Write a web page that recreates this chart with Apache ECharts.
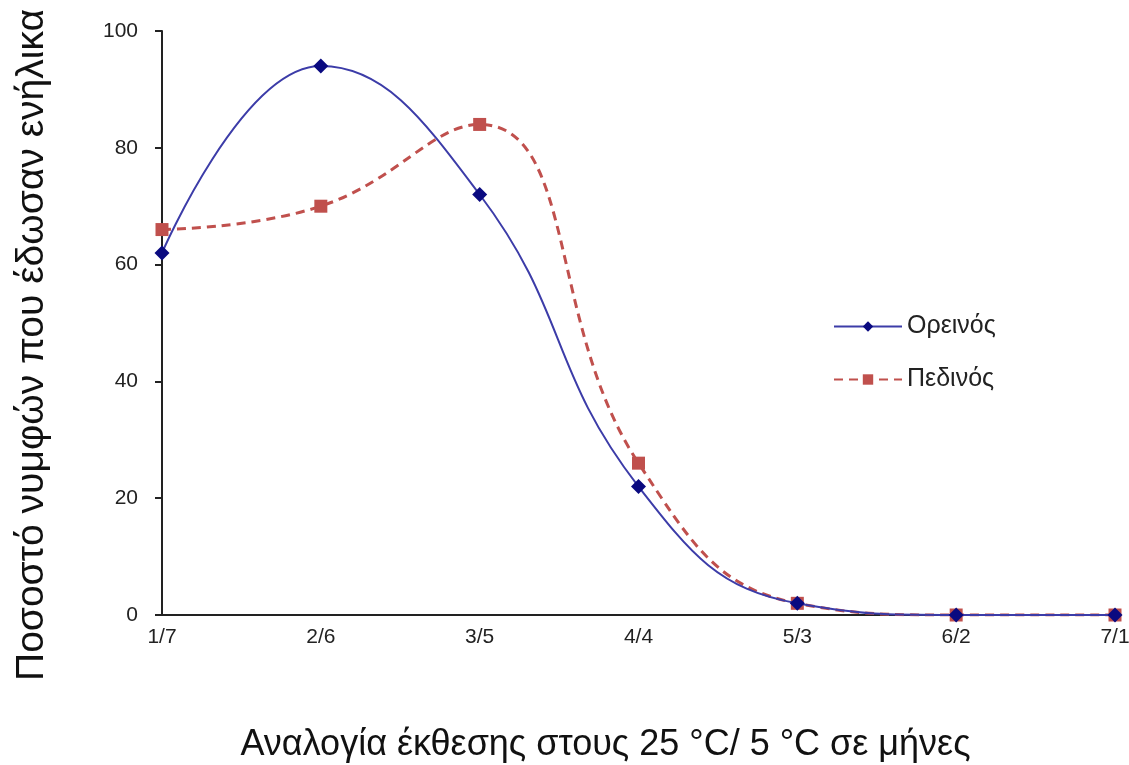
<!DOCTYPE html>
<html>
<head>
<meta charset="utf-8">
<script src="https://cdn.jsdelivr.net/npm/echarts@6/dist/echarts.min.js"></script>
<style>
  html, body { margin: 0; padding: 0; background: #fff; }
  #chart { width: 1129px; height: 765px; }
</style>
</head>
<body>
<div id="chart"></div>
<script>
// categories: ratio of months at 25 °C / 5 °C
const categories = ['1/7', '2/6', '3/5', '4/4', '5/3', '6/2', '7/1']
const mountainValues = [62, 94, 72, 22, 2, 0, 0]  // Ορεινός
const lowlandValues = [66, 70, 84, 26, 2, 0, 0]   // Πεδινός
const yTicks = { min: 0, max: 100, interval: 20 }

const font = '"Liberation Sans", Arial, sans-serif'
const blue = '#3c3ca8'
const navy = '#0a0a80'
const red = '#c0504d'

const chart = echarts.init(document.getElementById('chart'))
chart.setOption({
  animation: false,
  grid: { left: 162, right: 14, top: 31, bottom: 150, outerBoundsMode: 'none' },
  legend: {
    orient: 'vertical',
    left: 828,
    top: 309,
    itemWidth: 68,
    itemHeight: 13,
    itemGap: 28,
    textStyle: { fontFamily: font, fontSize: 25, color: '#222' },
    data: ['Ορεινός', 'Πεδινός'],
  },
  xAxis: {
    type: 'category',
    data: categories,
    boundaryGap: false,
    name: 'Αναλογία έκθεσης στους 25 °C/ 5 °C σε μήνες',
    nameLocation: 'middle',
    nameGap: 112,
    nameTextStyle: { fontFamily: font, fontSize: 36, color: '#111', padding: [0, 66, 0, 0] },
    axisLine: { lineStyle: { color: '#222', width: 2 } },
    axisTick: { show: false },
    axisLabel: { fontFamily: font, fontSize: 21, color: '#222', margin: 12 },
  },
  yAxis: {
    type: 'value',
    min: yTicks.min,
    max: yTicks.max,
    interval: yTicks.interval,
    name: 'Ποσοστό νυμφών που έδωσαν ενήλικα',
    nameLocation: 'middle',
    nameGap: 110,
    nameRotate: 90,
    nameTextStyle: { fontFamily: font, fontSize: 39, color: '#111', padding: [0, 44, 0, 0] },
    axisLine: { show: true, lineStyle: { color: '#222', width: 2 } },
    axisTick: { show: true, length: 7, lineStyle: { color: '#222', width: 2 } },
    axisLabel: { fontFamily: font, fontSize: 21, color: '#222', margin: 24 },
    splitLine: { show: false },
  },
  series: [
    {
      name: 'Ορεινός',
      type: 'line',
      smooth: 0.45,
      data: mountainValues,
      symbol: 'diamond',
      symbolSize: 15,
      lineStyle: { color: blue, width: 2 },
      itemStyle: { color: navy },
      z: 3,
    },
    {
      name: 'Πεδινός',
      type: 'line',
      smooth: 0.45,
      data: lowlandValues,
      symbol: 'rect',
      symbolSize: 13,
      lineStyle: { color: red, width: 3, type: [9, 6] },
      itemStyle: { color: red },
      z: 2,
    },
  ],
})
</script>
</body>
</html>
